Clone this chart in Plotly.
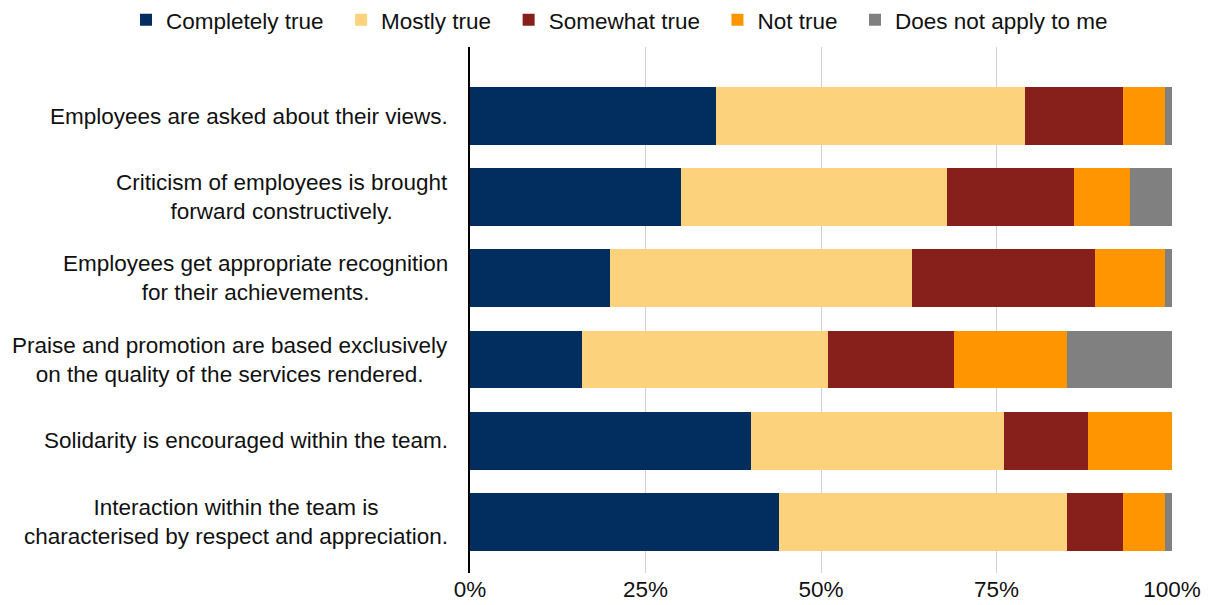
import plotly.graph_objects as go

categories = [
    "Employees are asked about their views.",
    "Criticism of employees is brought<br>forward constructively.",
    "Employees get appropriate recognition<br>for their achievements.",
    "Praise and promotion are based exclusively<br>on the quality of the services rendered.",
    "Solidarity is encouraged within the team.",
    "Interaction within the team is<br>characterised by respect and appreciation.",
]
series_names = ["Completely true", "Mostly true", "Somewhat true", "Not true", "Does not apply to me"]
completely_true = [35, 30, 20, 16, 40, 44]
mostly_true = [44, 38, 43, 35, 36, 41]
somewhat_true = [14, 18, 26, 18, 12, 8]
not_true = [6, 8, 10, 16, 12, 6]
does_not_apply = [1, 6, 1, 15, 0, 1]
colors = ["#022D5F", "#FDD27D", "#87201A", "#FF9500", "#808080"]
tick_vals = [0, 25, 50, 75, 100]
tick_text = ["0%", "25%", "50%", "75%", "100%"]

font_family = "Liberation Sans, Arial, sans-serif"
fs = 22.5
positions = list(range(len(categories)))
legend_pad = "\u00a0\u00a0"

fig = go.Figure()
all_series = [completely_true, mostly_true, somewhat_true, not_true, does_not_apply]
for i, (name, vals, col) in enumerate(zip(series_names, all_series, colors)):
    label = name + (legend_pad if i < len(series_names) - 1 else "")
    fig.add_trace(go.Bar(
        y=positions, x=vals, name=label, orientation="h",
        marker=dict(color=col, line=dict(width=0)),
    ))

for pos, label in zip(positions, categories):
    fig.add_annotation(
        x=0, xref="paper", y=pos, yref="y", text=label, showarrow=False,
        xanchor="right", yanchor="middle", align="center", xshift=-20,
        font=dict(size=fs, color="#111111", family=font_family),
    )

fig.update_layout(
    barmode="stack",
    bargap=0.286,
    width=1209, height=605,
    margin=dict(l=470, r=37, t=47, b=32, autoexpand=False),
    paper_bgcolor="white", plot_bgcolor="white",
    font=dict(family=font_family, size=fs, color="#111111"),
    legend=dict(orientation="h", x=-0.49, xref="paper", xanchor="left",
                y=1.051, yref="paper", yanchor="middle", traceorder="normal",
                font=dict(size=fs), itemwidth=30),
    showlegend=True,
)
fig.update_xaxes(
    range=[0, 100], tickvals=tick_vals, ticktext=tick_text,
    showgrid=True, gridcolor="#D0D0D0", gridwidth=1, zeroline=False,
    showline=False, tickfont=dict(size=fs),
)
fig.update_yaxes(
    tickvals=positions, showticklabels=False,
    range=[5.63, -0.85], showgrid=False, zeroline=False,
    showline=True, linecolor="black", linewidth=2, ticks="",
)

fig.write_html("out.html")
